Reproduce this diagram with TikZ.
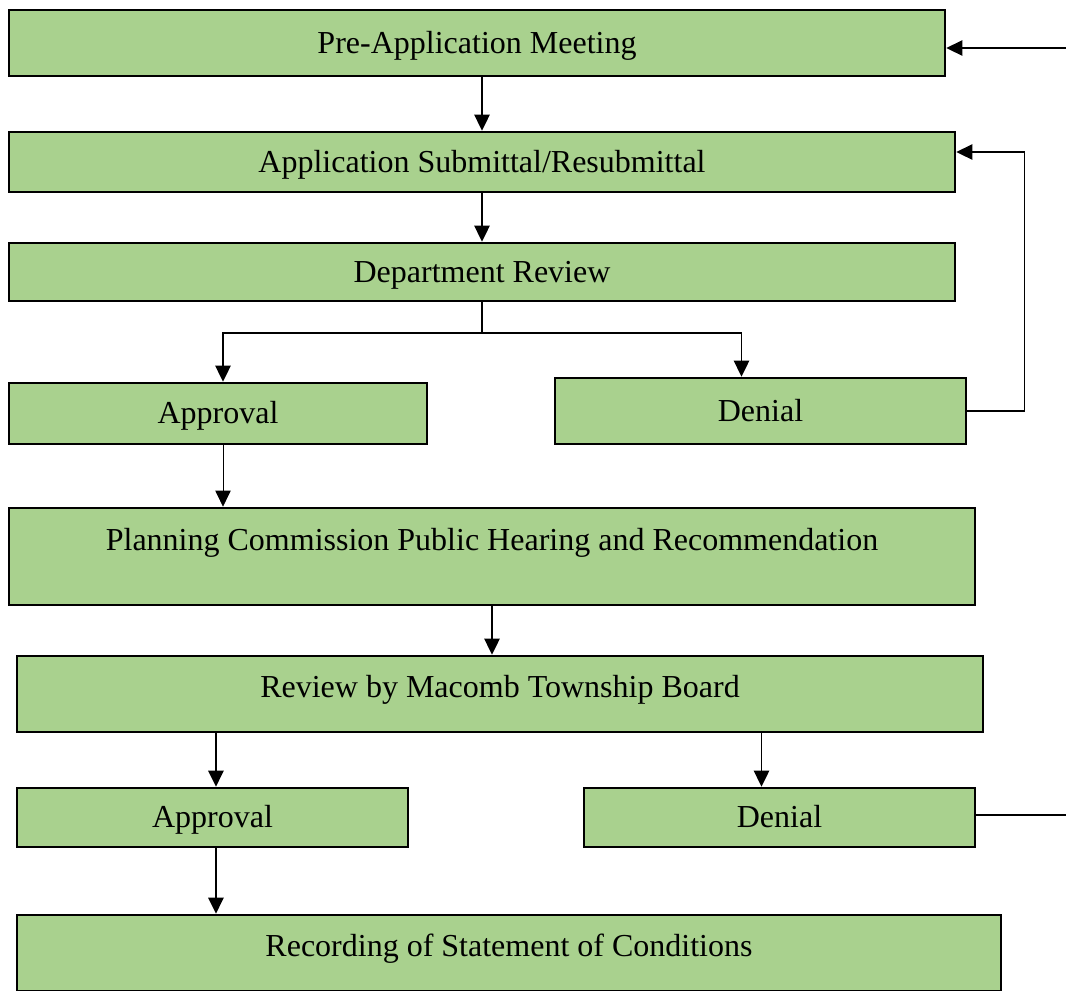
\documentclass[tikz,border=0pt]{standalone}
\usepackage{fontspec}
\setmainfont{Liberation Serif}
\usetikzlibrary{arrows.meta,calc}
\definecolor{boxgreen}{RGB}{169,209,142}

\begin{document}
\begin{tikzpicture}[x=0.75pt,y=-0.75pt,font=\fontsize{24}{28}\selectfont,
  stage/.style={draw=black,fill=boxgreen,line width=2pt,anchor=center,inner sep=2pt,
    text height=20.5pt,text depth=5pt},
  arr/.style={-{Triangle[length=12pt,width=11.5pt]},line width=1.2pt},
  link/.style={line width=1.2pt}]
\useasboundingbox (0,0) rectangle (1066,990);

%%% Boxes of the process
\node[stage,minimum width=702pt,minimum height=49.5pt] (pre) at (477,43) {Pre-Application Meeting};
\node[stage,minimum width=709.5pt,minimum height=45pt] (sub) at (482,162) {Application Submittal/Resubmittal};
\node[stage,minimum width=709.5pt,minimum height=43.5pt] (dept) at (482,272) {Department Review};
\node[stage,minimum width=313.5pt,minimum height=45.75pt] (appr1) at (218,413.5) {Approval};
\node[stage,minimum width=308.25pt,minimum height=49.5pt] (den1) at (760.5,411) {Denial};
\node[stage,minimum width=724.5pt,minimum height=72.75pt,text depth=30pt] (plan) at (492,556.5) {Planning Commission Public Hearing and Recommendation};
\node[stage,minimum width=724.5pt,minimum height=57pt,text depth=15pt] (rev) at (500,694) {Review by Macomb Township Board};
\node[stage,minimum width=293.25pt,minimum height=44.25pt] (appr2) at (212.5,817.5) {Approval};
\node[stage,minimum width=293.25pt,minimum height=44.25pt] (den2) at (779.5,817.5) {Denial};
\node[stage,minimum width=738pt,minimum height=57pt,text depth=15pt] (rec) at (509,953) {Recording of Statement of Conditions};

%%% Free ends and branch points
\coordinate (in) at (1066,48);
\coordinate (out) at (1066,815);
\coordinate (fork) at (482,333);
\coordinate (a1) at ([xshift=3.75pt]appr1.south);
\coordinate (a2) at ([xshift=2.6pt]appr2.north);
\coordinate (d2) at ([xshift=-13.5pt]den2.north);

%%% Connectors
\draw[arr] (in) -- (in -| pre.east);
\draw[arr] (pre.south -| sub.north) -- (sub.north);
\draw[arr] (sub.south) -- (dept.north);
\draw[link] (dept.south) -- (fork);
\draw[arr] (fork) -| ([xshift=3.75pt]appr1.north);
\draw[arr] (fork) -| ([xshift=-14.25pt]den1.north);
\draw[arr] (den1.east) -- ++(57,0) |- ([yshift=7.5pt]sub.east);
\draw[arr,line width=0.6pt] (a1) -- (a1 |- plan.north);
\draw[arr] (plan.south) -- (plan.south |- rev.north);
\draw[arr] (a2 |- rev.south) -- (a2);
\draw[arr] (d2 |- rev.south) -- (d2);
\draw[link] (den2.east |- out) -- (out);
\draw[arr] (a2 |- appr2.south) -- (a2 |- rec.north);
\end{tikzpicture}
\end{document}
